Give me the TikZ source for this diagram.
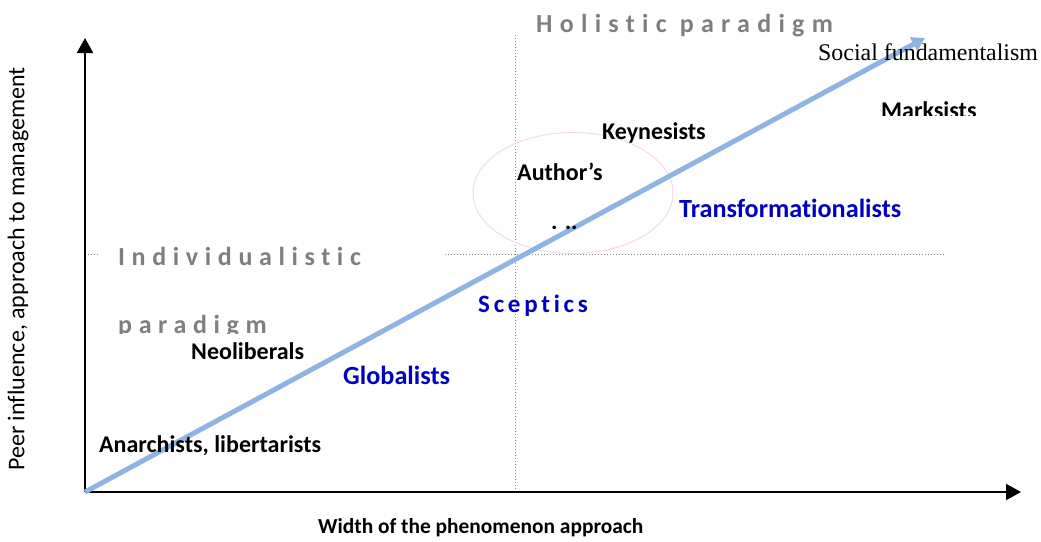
\documentclass[tikz,border=0pt]{standalone}
\usepackage{fontspec}
\setmainfont{Carlito}[Ligatures={TeX,NoCommon}]
\newfontfamily\seriff{Liberation Serif}
\usetikzlibrary{arrows.meta,shapes.geometric}
\definecolor{paragray}{HTML}{7F7F7F}
\definecolor{labblue}{HTML}{0000C0}
\definecolor{trendblue}{HTML}{8EB4E3}
\definecolor{ellpink}{HTML}{F9D4F4}
\definecolor{dotgray}{HTML}{8C8C8C}
\begin{document}
\begin{tikzpicture}[x=1pt,y=-1pt,
  lab/.style={anchor=base west,inner sep=0pt,font=\fontsize{24}{28}\selectfont\bfseries},
  bluelab/.style={anchor=base west,inner sep=0pt,text=labblue,font=\fontsize{26.2}{30}\selectfont\bfseries},
  para/.style={anchor=base west,inner sep=0pt,text=paragray,font=\fontsize{26}{30}\selectfont\bfseries\addfontfeature{LetterSpace=28}},
  paraleft/.style={anchor=base west,inner sep=0pt,text=paragray,font=\fontsize{26}{30}\selectfont\bfseries\addfontfeature{LetterSpace=25.5}},
  guide/.style={dotgray,line width=1pt,dotted},
  axis/.style={line width=2pt,-{Triangle[length=15pt,width=16pt]}}]
\useasboundingbox (0,0) rectangle (1041,541);
% coordinates
\coordinate (O) at (85,492);
\coordinate (Ytop) at (85,38);
\coordinate (Xend) at (1021,492);
\coordinate (Tend) at (925,38);
\coordinate (VT) at (515,35);
\coordinate (VB) at (515,492);
\coordinate (HL1) at (85,254);
\coordinate (HL2) at (98,254);
\coordinate (HR1) at (445,254);
\coordinate (HR2) at (946,254);
% guides
\draw[guide] (VT) -- (VB);
\draw[guide] (HL1) -- (HL2);
\draw[guide] (HR1) -- (HR2);
% ellipse
\node[ellipse,draw=ellpink,line width=1pt,minimum width=200pt,minimum height=121pt,inner sep=0pt] (ell) at (573,193) {};
% axes
\draw[axis] (O) -- (Ytop);
\draw[axis] (O) -- (Xend);
% trend arrow
\draw[trendblue,line width=5pt,-{Triangle[length=13pt,width=15pt]}] (O) -- (Tend);
% labels
\node[para] (holistic) at (536,32) {Holistic paradigm};
\node[anchor=base west,inner sep=0pt,font=\seriff\fontsize{23.9}{28}\selectfont] (social) at (818,60) {Social fundamentalism};
\begin{scope}
  \clip (870,90) rectangle (990,115);
  \node[lab] (marks) at (881,118) {Marksists};
\end{scope}
\node[lab] (keyn) at (602,139) {Keynesists};
\node[lab] (author) at (517,180) {Author’s};
\node[lab] (dots) at (551,229) {. ..};
\node[bluelab] (trans) at (679,217) {Transformationalists};
\node[paraleft] (indiv) at (118,265) {Individualistic};
\begin{scope}
  \clip (110,300) rectangle (290,333);
  \node[paraleft] (parad) at (118,333) {paradigm};
\end{scope}
\node[anchor=base west,inner sep=0pt,text=labblue,font=\fontsize{25}{30}\selectfont\bfseries\addfontfeature{LetterSpace=15}] (scept) at (478,312) {Sceptics};
\node[lab] (neo) at (191,359) {Neoliberals};
\node[bluelab] (glob) at (343,384) {Globalists};
\node[lab] (anar) at (99,452) {Anarchists, libertarists};
\node[anchor=base west,inner sep=0pt,font=\fontsize{21.4}{25}\selectfont\bfseries] (xlab) at (318,533) {Width of the phenomenon approach};
\node[rotate=90,inner sep=0pt,font=\fontsize{24}{28}\selectfont] (ylab) at (18,269) {Peer influence, approach to management};
\end{tikzpicture}
\end{document}
